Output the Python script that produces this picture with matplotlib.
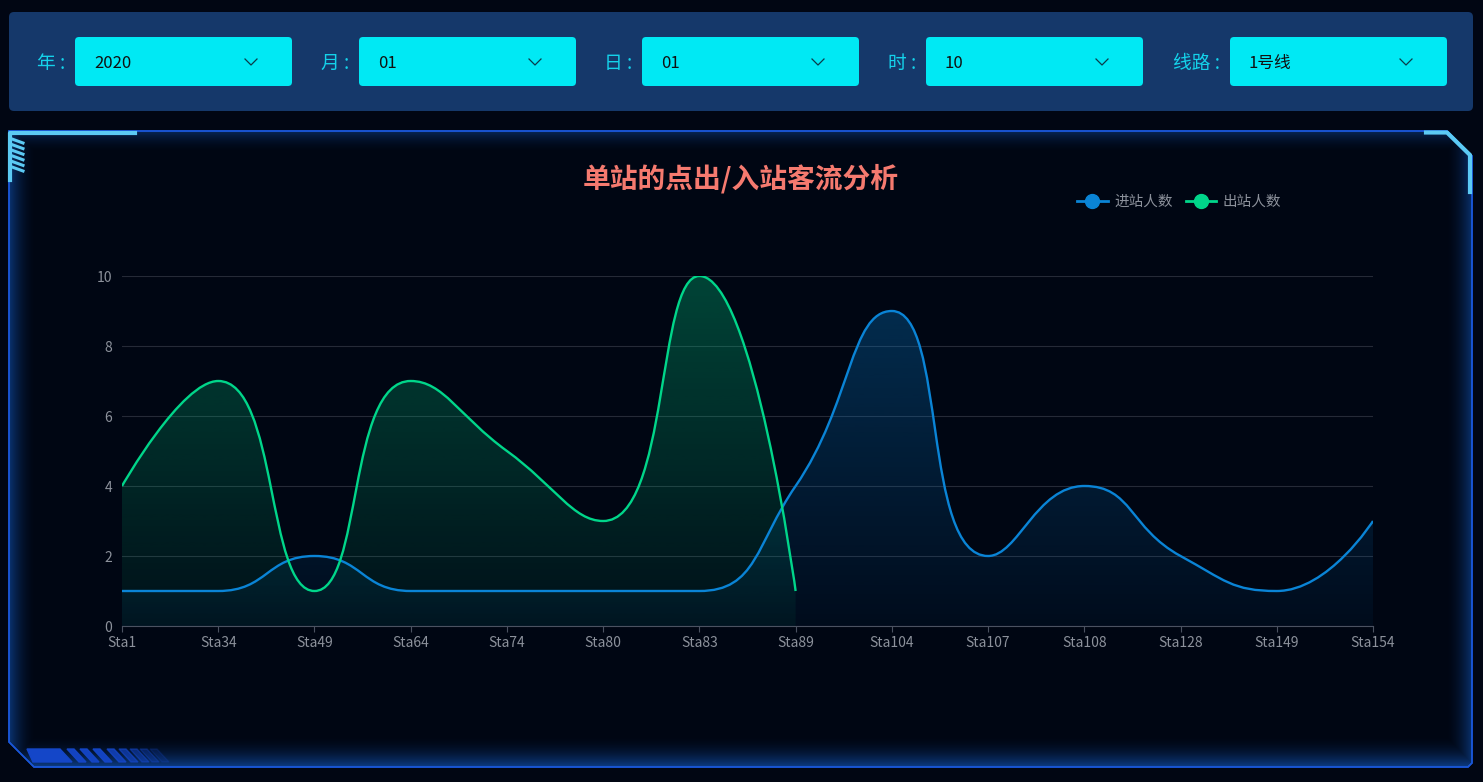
import numpy as np
import matplotlib
matplotlib.use('Agg')
import matplotlib.pyplot as plt
from matplotlib.path import Path
from matplotlib.patches import PathPatch, FancyBboxPatch, Polygon
from matplotlib.lines import Line2D

plt.rcParams['font.family'] = ['Noto Sans CJK SC', 'DejaVu Sans']

# chart data
stations = ['Sta1', 'Sta34', 'Sta49', 'Sta64', 'Sta74', 'Sta80', 'Sta83',
            'Sta89', 'Sta104', 'Sta107', 'Sta108', 'Sta128', 'Sta149', 'Sta154']
in_counts = [1, 1, 2, 1, 1, 1, 1, 4, 9, 2, 4, 2, 1, 3]
out_counts = [4, 7, 1, 7, 5, 3, 10, 1]
y_ticks = [0, 2, 4, 6, 8, 10]
in_label = '进站人数'
out_label = '出站人数'
title = '单站的点出/入站客流分析'

# filter bar
filter_labels = ['年 :', '月 :', '日 :', '时 :', '线路 :']
filter_values = ['2020', '01', '01', '10', '1号线']

W, H = 1483, 782
BG = '#010613'
IN_COLOR = '#0a84d6'
OUT_COLOR = '#00d68a'
ACCENT = '#5ccaf4'
BORDER = '#1a56d8'


def smooth_path(ys, sx, sy, smooth=0.5):
    # echarts-like smoothing, done in pixel space
    pts = [(i * sx, v * sy) for i, v in enumerate(ys)]
    verts = [pts[0]]
    codes = [Path.MOVETO]
    cp0 = pts[0]
    n = len(pts)
    for i in range(1, n):
        px, py = pts[i - 1]
        x, y = pts[i]
        if i == n - 1:
            cp1 = (x, y)
            ncp0 = None
        else:
            nx, ny = pts[i + 1]
            vx, vy = nx - px, ny - py
            lp = np.hypot(x - px, y - py)
            ln = np.hypot(nx - x, ny - y)
            r = ln / (ln + lp)
            ncx = x + vx * smooth * r
            ncy = y + vy * smooth * r
            ncx = min(max(ncx, min(nx, x)), max(nx, x))
            ncy = min(max(ncy, min(ny, y)), max(ny, y))
            vx, vy = ncx - x, ncy - y
            c1x = x - vx * lp / ln
            c1y = y - vy * lp / ln
            c1x = min(max(c1x, min(px, x)), max(px, x))
            c1y = min(max(c1y, min(py, y)), max(py, y))
            vx, vy = x - c1x, y - c1y
            ncp0 = (x + vx * ln / lp, y + vy * ln / lp)
            cp1 = (c1x, c1y)
        verts += [cp0, cp1, (x, y)]
        codes += [Path.CURVE4] * 3
        cp0 = ncp0
    verts = [(a / sx, b / sy) for a, b in verts]
    return verts, codes


fig = plt.figure(figsize=(W / 100, H / 100), dpi=100)
fig.patch.set_facecolor(BG)

# ---- background decoration in pixel coordinates ----
bg = fig.add_axes([0, 0, 1, 1], zorder=0)
bg.set_xlim(0, W)
bg.set_ylim(H, 0)
bg.axis('off')

bar = FancyBboxPatch((9, 12), 1464, 99, boxstyle='round,pad=0,rounding_size=5',
                     facecolor='#15386a', edgecolor='none')
bg.add_patch(bar)
box_x = [75, 359, 642, 926, 1230]
for bx, lab, val in zip(box_x, filter_labels, filter_values):
    bg.add_patch(FancyBboxPatch((bx, 37), 217, 49, boxstyle='round,pad=0,rounding_size=4',
                                facecolor='#00e9f4', edgecolor='none'))
    bg.text(bx - 10, 63, lab, ha='right', va='center', fontsize=13.5, color='#14d2ea')
    bg.text(bx + 19, 63, val, ha='left', va='center', fontsize=12, color='#111111')
    cx = bx + 176
    bg.plot([cx - 6, cx, cx + 6], [59, 65, 59], color='#0b3b4a', lw=0.9)

panel_pts = [(9, 131), (1447, 131), (1472, 156), (1472, 763), (1468, 767),
             (34, 767), (9, 742)]
panel = Polygon(panel_pts, closed=True, facecolor='#000613', edgecolor=BORDER, lw=1.1)
bg.add_patch(panel)

# inner glow along the panel edges
gh, gw = 636, 1464
yy, xx = np.mgrid[0:gh, 0:gw]
def fall(d, w):
    return np.clip(1 - d / w, 0, 1) ** 2
alpha = np.maximum.reduce([0.6 * fall(gh - 1 - yy, 32), 0.35 * fall(yy, 22),
                           0.5 * fall(xx, 28), 0.5 * fall(gw - 1 - xx, 28)])
glow = np.zeros((gh, gw, 4))
glow[..., 0] = 20 / 255
glow[..., 1] = 95 / 255
glow[..., 2] = 205 / 255
glow[..., 3] = alpha
im = bg.imshow(glow, extent=(9, 1473, 767, 131), aspect='auto', zorder=1)
im.set_clip_path(panel)
bg.add_patch(Polygon(panel_pts, closed=True, facecolor='none', edgecolor=BORDER, lw=1.1, zorder=2))

bg.plot([10, 10, 135], [180, 132.5, 132.5], color=ACCENT, lw=3, solid_joinstyle='round', zorder=3)
bg.plot([1426, 1447, 1470, 1470], [132.5, 132.5, 155, 192], color=ACCENT, lw=3, zorder=3)
for sy0 in np.arange(139, 170, 5.6):
    bg.plot([12, 23], [sy0, sy0 + 4], color=ACCENT, lw=2.2, zorder=3)

bg.add_patch(Polygon([(27, 749), (60, 749), (72, 762), (33, 762)], color='#1446c8', zorder=3))
for k, sx0 in enumerate([67, 80, 93, 107, 119, 130, 140, 150]):
    a = 0.95 if k < 3 else 0.95 - (k - 2) * 0.15
    bg.add_patch(Polygon([(sx0, 749), (sx0 + 7, 749), (sx0 + 19, 762), (sx0 + 12, 762)],
                         color='#1446c8', alpha=a, zorder=3))

# ---- chart ----
left, right, top, bottom = 122, 1373, 276, 626
ax = fig.add_axes([left / W, (H - bottom) / H, (right - left) / W, (bottom - top) / H], zorder=2)
ax.set_facecolor('none')

sx = (right - left) / (len(stations) - 1)
sy = (bottom - top) / 10

series = [(in_counts, IN_COLOR), (out_counts, OUT_COLOR)]
curves = []
for vals, col in series:
    verts, codes = smooth_path(vals, sx, sy)
    curves.append((verts, codes, col))
    n = len(vals)
    area = Path(verts + [(n - 1, 0), (0, 0), (0, 0)],
                codes + [Path.LINETO, Path.LINETO, Path.CLOSEPOLY])
    patch = PathPatch(area, facecolor='none', edgecolor='none')
    ax.add_patch(patch)
    rgb = matplotlib.colors.to_rgb(col)
    grad = np.zeros((200, 1, 4))
    grad[..., :3] = rgb
    grad[:, 0, 3] = np.linspace(0.3, 0.05, 200)
    g = ax.imshow(grad, extent=(0, n - 1, 0, max(vals)), aspect='auto', zorder=1)
    g.set_clip_path(patch)

for verts, codes, col in curves:
    ax.add_patch(PathPatch(Path(verts, codes), facecolor='none', edgecolor=col, lw=1.7, zorder=3))

ax.set_xlim(0, len(stations) - 1)
ax.set_ylim(0, 10)
ax.set_xticks(range(len(stations)))
ax.set_xticklabels(stations)
ax.set_yticks(y_ticks)
ax.grid(axis='y', color='#252a37', lw=0.8)
ax.set_axisbelow(True)
for s in ['top', 'right', 'left']:
    ax.spines[s].set_visible(False)
ax.spines['bottom'].set_color('#4b5261')
ax.tick_params(axis='x', colors='#4b5261', length=4, pad=3.5, labelsize=10, labelcolor='#8c919b')
ax.tick_params(axis='y', length=0, pad=7, labelsize=10, labelcolor='#8c919b')

fig.text(741 / W, 1 - 179 / H, title, ha='center', va='center', fontsize=20,
         fontweight='bold', color='#f57a6f')

handles = [Line2D([], [], color=IN_COLOR, lw=2, marker='o', markersize=10),
           Line2D([], [], color=OUT_COLOR, lw=2, marker='o', markersize=10)]
leg = ax.legend(handles, [in_label, out_label], loc='center left', ncol=2,
                bbox_to_anchor=(1077 / W, 1 - 202 / H), bbox_transform=fig.transFigure,
                frameon=False, fontsize=10.5, handlelength=2.1, handletextpad=0.45,
                columnspacing=0.9, borderpad=0, borderaxespad=0)
for t in leg.get_texts():
    t.set_color('#8c919b')

fig.savefig('out.png', dpi=100, facecolor=BG)
